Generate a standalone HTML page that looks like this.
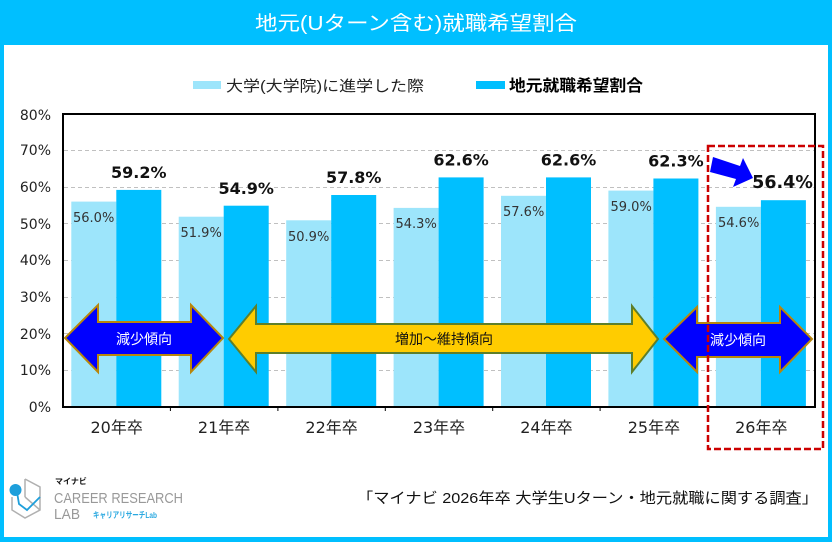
<!DOCTYPE html>
<html><head><meta charset="utf-8">
<style>
html,body{margin:0;padding:0;background:#fff;}
svg{display:block;}
.cjk{font-family:"Liberation Sans","Noto Sans CJK JP",sans-serif;}
.num{font-family:"DejaVu Sans","Noto Sans CJK JP",sans-serif;}
</style></head>
<body>
<svg width="832" height="542" viewBox="0 0 832 542" xmlns="http://www.w3.org/2000/svg">
<rect x="0" y="0" width="832" height="542" fill="#00BFFF"/>
<rect x="4" y="45" width="824" height="492" fill="#FFFFFF"/>
<text x="416" y="30" text-anchor="middle" class="cjk" font-size="20" fill="#FFFFFF" textLength="322" lengthAdjust="spacingAndGlyphs">地元(Uターン含む)就職希望割合</text>

<!-- legend -->
<rect x="193" y="81" width="28" height="8" fill="#9DE5FB"/>
<text x="226" y="91" class="cjk" font-size="15" fill="#222" textLength="198" lengthAdjust="spacingAndGlyphs">大学(大学院)に進学した際</text>
<rect x="476" y="81" width="29" height="8" fill="#00BFFF"/>
<text x="509" y="91" class="cjk" font-size="16" font-weight="bold" fill="#000" textLength="134" lengthAdjust="spacingAndGlyphs">地元就職希望割合</text>

<!-- gridlines -->
<g stroke="#C0C0C0" stroke-width="1" stroke-dasharray="4 3">
<line x1="64" y1="150.5" x2="814" y2="150.5"/>
<line x1="64" y1="187.5" x2="814" y2="187.5"/>
<line x1="64" y1="223.5" x2="814" y2="223.5"/>
<line x1="64" y1="260.5" x2="814" y2="260.5"/>
<line x1="64" y1="297.5" x2="814" y2="297.5"/>
<line x1="64" y1="333.5" x2="814" y2="333.5"/>
<line x1="64" y1="370.5" x2="814" y2="370.5"/>
</g>

<!-- y labels -->
<g class="num" font-size="14" fill="#222" text-anchor="end">
<text x="51" y="120">80%</text>
<text x="51" y="155">70%</text>
<text x="51" y="192">60%</text>
<text x="51" y="229">50%</text>
<text x="51" y="265">40%</text>
<text x="51" y="302">30%</text>
<text x="51" y="339">20%</text>
<text x="51" y="375">10%</text>
<text x="51" y="412">0%</text>
</g>

<!-- bars -->
<g>
<rect x="71.3" y="201.6" width="45" height="205.4" fill="#9DE5FB"/>
<rect x="116.3" y="189.9" width="45" height="217.1" fill="#00BFFF"/>
<rect x="178.7" y="216.7" width="45" height="190.3" fill="#9DE5FB"/>
<rect x="223.7" y="205.7" width="45" height="201.3" fill="#00BFFF"/>
<rect x="286.2" y="220.3" width="45" height="186.7" fill="#9DE5FB"/>
<rect x="331.2" y="195.0" width="45" height="212.0" fill="#00BFFF"/>
<rect x="393.6" y="207.9" width="45" height="199.1" fill="#9DE5FB"/>
<rect x="438.6" y="177.4" width="45" height="229.6" fill="#00BFFF"/>
<rect x="501.0" y="195.8" width="45" height="211.2" fill="#9DE5FB"/>
<rect x="546.0" y="177.4" width="45" height="229.6" fill="#00BFFF"/>
<rect x="608.4" y="190.6" width="45" height="216.4" fill="#9DE5FB"/>
<rect x="653.4" y="178.5" width="45" height="228.5" fill="#00BFFF"/>
<rect x="715.9" y="206.8" width="45" height="200.2" fill="#9DE5FB"/>
<rect x="760.9" y="200.2" width="45" height="206.8" fill="#00BFFF"/>
</g>

<!-- light labels -->
<g class="num" font-size="13" fill="#333">
<text x="73" y="222">56.0%</text>
<text x="180.5" y="237">51.9%</text>
<text x="288" y="241">50.9%</text>
<text x="395.5" y="228">54.3%</text>
<text x="503" y="216">57.6%</text>
<text x="610.5" y="211">59.0%</text>
<text x="718" y="227">54.6%</text>
</g>
<!-- dark labels -->
<g class="num" font-size="16" font-weight="bold" fill="#111" text-anchor="middle">
<text x="138.8" y="178">59.2%</text>
<text x="246.2" y="194">54.9%</text>
<text x="353.7" y="183">57.8%</text>
<text x="461.1" y="165.5">62.6%</text>
<text x="568.5" y="165.5">62.6%</text>
<text x="675.9" y="166.5">62.3%</text>
<text x="782.5" y="188" font-size="17.5">56.4%</text>
</g>

<!-- plot frame -->
<rect x="63" y="114" width="752" height="293" fill="none" stroke="#000" stroke-width="2"/>
<g stroke="#000" stroke-width="1">
<line x1="170.4" y1="407" x2="170.4" y2="411"/>
<line x1="277.9" y1="407" x2="277.9" y2="411"/>
<line x1="385.3" y1="407" x2="385.3" y2="411"/>
<line x1="492.7" y1="407" x2="492.7" y2="411"/>
<line x1="600.1" y1="407" x2="600.1" y2="411"/>
<line x1="707.6" y1="407" x2="707.6" y2="411"/>
</g>

<!-- x labels -->
<g class="num" font-size="16" fill="#222" text-anchor="middle">
<text x="116.7" y="433">20年卒</text>
<text x="224.1" y="433">21年卒</text>
<text x="331.6" y="433">22年卒</text>
<text x="439" y="433">23年卒</text>
<text x="546.4" y="433">24年卒</text>
<text x="653.9" y="433">25年卒</text>
<text x="761.3" y="433">26年卒</text>
</g>

<!-- arrows -->
<polygon points="65,338 98,305 98,322 191,322 191,305 223,338 191,372 191,355 98,355 98,372" fill="#0000FF" stroke="#B8860B" stroke-width="2" stroke-linejoin="miter"/>
<text x="144" y="344" text-anchor="middle" class="cjk" font-size="14" fill="#FFFFFF">減少傾向</text>

<polygon points="229,339 256,306 256,324 632,324 632,306 658,339 632,372 632,353 256,353 256,372" fill="#FFCC00" stroke="#5E7F2A" stroke-width="2"/>
<text x="444" y="344" text-anchor="middle" class="cjk" font-size="14" fill="#111">増加～維持傾向</text>

<polygon points="664,339 697,307 697,323 780,323 780,307 812,339 780,372 780,357 697,357 697,372" fill="#0000FF" stroke="#B8860B" stroke-width="2"/>
<text x="738" y="345" text-anchor="middle" class="cjk" font-size="14" fill="#FFFFFF">減少傾向</text>

<!-- diagonal arrow -->
<polygon points="713,157 740,166 743,158 753,178 733,187 736,179 710,172" fill="#0000FF"/>

<!-- red dashed box -->
<rect x="708" y="146" width="115" height="303" fill="none" stroke="#CC0000" stroke-width="2.5" stroke-dasharray="7 3"/>

<!-- footer logo -->
<g fill="none" stroke="#B0B0B0" stroke-width="1.5">
<polyline points="25,479 40,487 40,510 25,518 12,510 12,497"/>
<line x1="25" y1="479" x2="25" y2="497"/>
<line x1="25" y1="497" x2="40" y2="510"/>
</g>
<g fill="none" stroke="#1E9FDB" stroke-width="1.8">
<polyline points="17,492 19,504 27,510 40,497"/>
</g>
<circle cx="15.5" cy="490" r="6" fill="#1E9FDB"/>
<text x="55" y="484" class="cjk" font-size="8" font-weight="bold" fill="#111">マイナビ</text>
<text x="54" y="503" font-family="Liberation Sans, sans-serif" font-size="15" fill="#999" textLength="129" lengthAdjust="spacingAndGlyphs">CAREER RESEARCH</text>
<text x="54" y="519" font-family="Liberation Sans, sans-serif" font-size="15" fill="#999" textLength="26" lengthAdjust="spacingAndGlyphs">LAB</text>
<text x="93" y="518" class="cjk" font-size="8.5" font-weight="bold" fill="#29A8E0" textLength="64" lengthAdjust="spacingAndGlyphs">キャリアリサーチLab</text>

<text x="357" y="503" class="cjk" font-size="15" fill="#111" textLength="461" lengthAdjust="spacingAndGlyphs">「マイナビ 2026年卒 大学生Uターン・地元就職に関する調査」</text>
</svg>
</body></html>
